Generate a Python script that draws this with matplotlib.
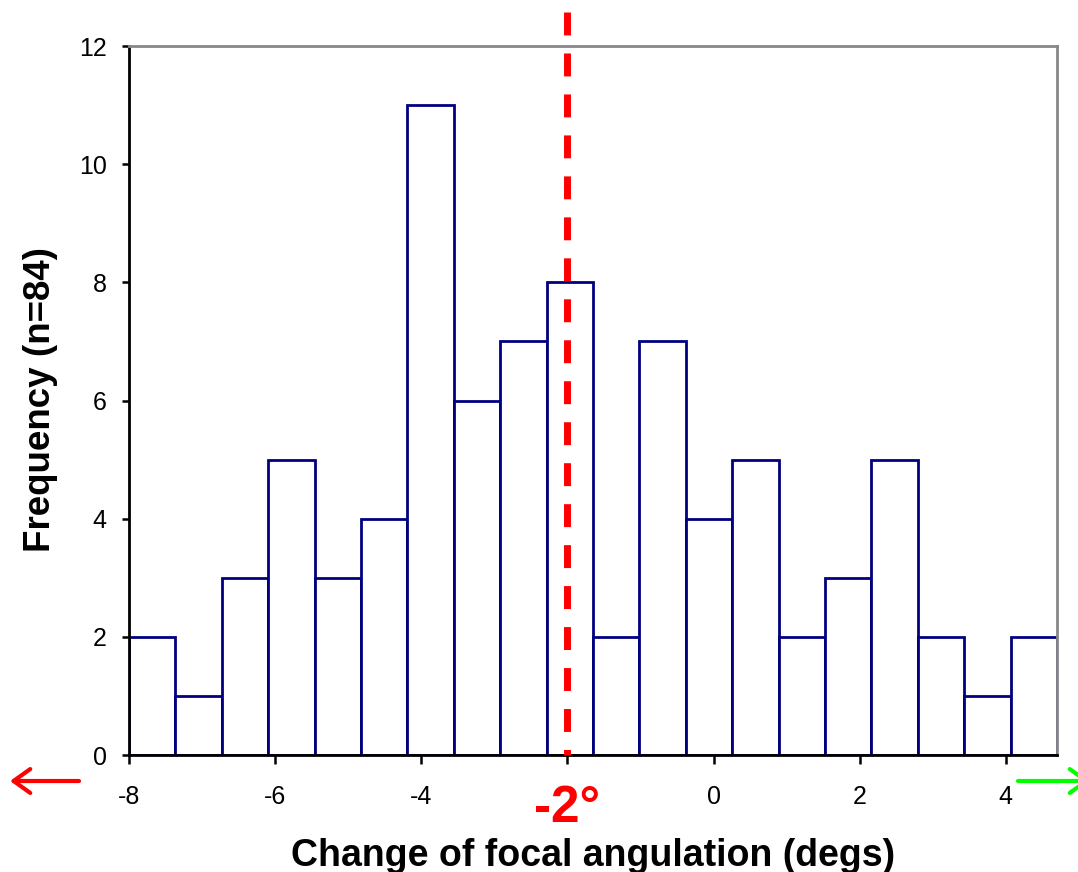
import matplotlib
matplotlib.use("Agg")
import matplotlib.pyplot as plt

plt.rcParams["font.family"] = ["Liberation Sans", "DejaVu Sans"]

# histogram of change in focal angulation, 20 bins starting at -8 degrees
bin_start = -8.0
bin_width = 0.635
counts = [2, 1, 3, 5, 3, 4, 11, 6, 7, 8, 2, 7, 4, 5, 2, 3, 5, 2, 1, 2]
x_ticks = [-8, -6, -4, -2, 0, 2, 4]
x_tick_labels = ["-8", "-6", "-4", "", "0", "2", "4"]
y_ticks = [0, 2, 4, 6, 8, 10, 12]
marker_value = -2
marker_label = "-2°"

W, H, DPI = 1078, 872, 100
fig = plt.figure(figsize=(W / DPI, H / DPI), dpi=DPI)
ax = fig.add_axes([129 / W, 1 - 755 / H, (1057 - 129) / W, (755 - 46) / H])

lefts = [bin_start + i * bin_width for i in range(len(counts))]
ax.bar(lefts, counts, width=bin_width, align="edge", facecolor="white",
       edgecolor="#000080", linewidth=2.0, zorder=2)

ax.set_xlim(bin_start, bin_start + bin_width * len(counts))
ax.set_ylim(0, 12)
ax.set_xticks(x_ticks)
ax.set_xticklabels(x_tick_labels)
ax.set_yticks(y_ticks)
ax.tick_params(axis="x", direction="out", length=6.5, width=1.8, pad=15, labelsize=18)
ax.tick_params(axis="y", direction="out", length=5, width=1.8, pad=11, labelsize=18)

for side in ("left", "bottom"):
    ax.spines[side].set_color("black")
    ax.spines[side].set_linewidth(2.0)
for side in ("top", "right"):
    ax.spines[side].set_color("#888888")
    ax.spines[side].set_linewidth(2.0)

# red dashed marker running above the plot area, drawn from the top down
ax.plot([marker_value, marker_value], [1.048, 0], transform=ax.get_xaxis_transform(),
        color="red", linewidth=5, linestyle=(0, (3.3, 2.6)), clip_on=False, zorder=5)
fig.text(567 / W, 1 - 808 / H, marker_label, color="red", fontsize=37,
         fontweight="bold", ha="center", va="center")

fig.text(593 / W, 6 / H, "Change of focal angulation (degs)", fontsize=27,
         fontweight="bold", ha="center", va="baseline")
fig.text(41 / W, 1 - 400 / H, "Frequency (n=84)", fontsize=26.5, fontweight="bold",
         rotation=90, ha="center", va="center")

# direction arrows under the axis
arrow_style = "->,head_length=0.6,head_width=0.43"
ax.annotate("", xy=(10, H - 781), xytext=(79, H - 781), xycoords="figure pixels",
            textcoords="figure pixels",
            arrowprops=dict(arrowstyle=arrow_style, color="red", lw=3, mutation_scale=20,
                            shrinkA=0, shrinkB=0), annotation_clip=False)
ax.annotate("", xy=(1090, H - 781), xytext=(1018, H - 781), xycoords="figure pixels",
            textcoords="figure pixels",
            arrowprops=dict(arrowstyle=arrow_style, color="#00ff00", lw=3, mutation_scale=20,
                            shrinkA=0, shrinkB=0), annotation_clip=False)

fig.savefig("out.png", dpi=DPI)
plt.close(fig)
